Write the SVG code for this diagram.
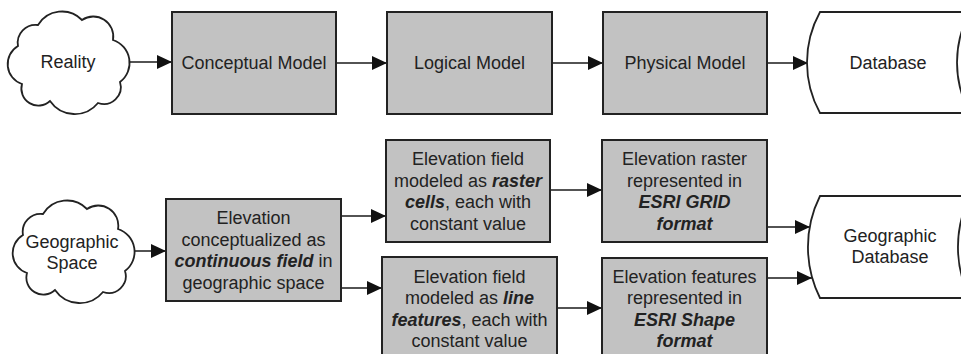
<svg xmlns="http://www.w3.org/2000/svg" width="961" height="354" viewBox="0 0 961 354">
<defs>
<style>
.box{fill:#c2c2c2;stroke:#222;stroke-width:2}
.shape{fill:#fff;stroke:#222;stroke-width:1.8}
.t{font-family:"Liberation Sans",Arial,sans-serif;font-size:18px;fill:#222;text-anchor:middle}
.bi{font-weight:bold;font-style:italic}
.c{fill:none;stroke:#1a1a1a;stroke-width:1.6;marker-end:url(#ah)}
</style>
<marker id="ah" markerUnits="userSpaceOnUse" markerWidth="15" markerHeight="14" refX="15" refY="7" orient="auto">
<path d="M0,0 L15,7 L0,14 Z" fill="#111"/>
</marker>
<path id="cloud" d="M18,46 A18,18 0 0 1 38,25 A28,28 0 0 1 82,20 A20,20 0 0 1 113,40 A24,24 0 0 1 120,82 A17,17 0 0 1 98,103 A30,30 0 0 1 50,101 A17,17 0 0 1 22,84 A21,21 0 0 1 18,46 Z"/>
</defs>
<rect width="961" height="354" fill="#fff"/>

<g id="connectors">
<line class="c" x1="128" y1="62" x2="172" y2="62"/>
<line class="c" x1="336" y1="63" x2="387" y2="63"/>
<line class="c" x1="552" y1="63" x2="603" y2="63"/>
<line class="c" x1="767" y1="63" x2="808" y2="63"/>
<line class="c" x1="132" y1="251" x2="166" y2="251"/>
<line class="c" x1="341" y1="216" x2="386" y2="216"/>
<line class="c" x1="341" y1="288" x2="382" y2="288"/>
<line class="c" x1="550" y1="190" x2="602" y2="190"/>
<line class="c" x1="557" y1="308" x2="602" y2="308"/>
<line class="c" x1="767" y1="227" x2="810" y2="227"/>
<line class="c" x1="767" y1="278" x2="812" y2="278"/>
</g>

<g id="reality">
<use href="#cloud" class="shape"/>
<text class="t" x="68" y="68">Reality</text>
</g>
<g id="conceptual">
<rect class="box" x="172" y="12" width="164" height="102"/>
<text class="t" x="254" y="69">Conceptual Model</text>
</g>
<g id="logical">
<rect class="box" x="387" y="12" width="165" height="102"/>
<text class="t" x="469.5" y="69">Logical Model</text>
</g>
<g id="physical">
<rect class="box" x="603" y="12" width="164" height="102"/>
<text class="t" x="685" y="69">Physical Model</text>
</g>
<g id="database">
<path class="shape" d="M820,12 H970 A104.6,104.6 0 0 0 970,113 H820 A104.6,104.6 0 0 1 820,12 Z"/>
<text class="t" x="888" y="69">Database</text>
</g>

<g id="geospace">
<use href="#cloud" class="shape" transform="translate(5,189)"/>
<text class="t" x="72" y="248">Geographic</text>
<text class="t" x="72" y="269">Space</text>
</g>
<g id="elevation-concept">
<rect class="box" x="166" y="199" width="175" height="102"/>
<text class="t" x="253.5" y="224">Elevation</text>
<text class="t" x="253.5" y="245.5">conceptualized as</text>
<text class="t" x="253.5" y="267"><tspan class="bi">continuous field</tspan> in</text>
<text class="t" x="253.5" y="288.5">geographic space</text>
</g>
<g id="raster-cells">
<rect class="box" x="386" y="140" width="164" height="102"/>
<text class="t" x="468" y="165">Elevation field</text>
<text class="t" x="468" y="186.5">modeled as <tspan class="bi">raster</tspan></text>
<text class="t" x="468" y="208"><tspan class="bi">cells</tspan>, each with</text>
<text class="t" x="468" y="229.5">constant value</text>
</g>
<g id="line-features">
<rect class="box" x="382" y="257" width="175" height="104"/>
<text class="t" x="469.5" y="283">Elevation field</text>
<text class="t" x="469.5" y="304">modeled as <tspan class="bi">line</tspan></text>
<text class="t" x="469.5" y="325.5"><tspan class="bi">features</tspan>, each with</text>
<text class="t" x="469.5" y="347">constant value</text>
</g>
<g id="esri-grid">
<rect class="box" x="602" y="140" width="165" height="102"/>
<text class="t" x="684.5" y="165">Elevation raster</text>
<text class="t" x="684.5" y="186.5">represented in</text>
<text class="t bi" x="684.5" y="208">ESRI GRID</text>
<text class="t bi" x="684.5" y="229.5">format</text>
</g>
<g id="esri-shape">
<rect class="box" x="602" y="258" width="165" height="104"/>
<text class="t" x="684.5" y="283">Elevation features</text>
<text class="t" x="684.5" y="304">represented in</text>
<text class="t bi" x="684.5" y="325.5">ESRI Shape</text>
<text class="t bi" x="684.5" y="347">format</text>
</g>
<g id="geo-database">
<path class="shape" d="M820,196 H970 A114,114 0 0 0 970,298 H820 A114,114 0 0 1 820,196 Z"/>
<text class="t" x="890" y="242">Geographic</text>
<text class="t" x="890" y="263">Database</text>
</g>
</svg>
